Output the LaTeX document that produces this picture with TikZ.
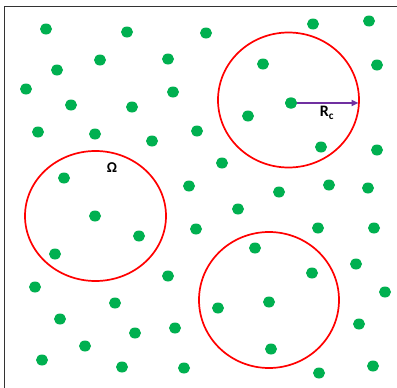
\documentclass[tikz,border=0pt]{standalone}
\usepackage{fontspec}
\setmainfont{Carlito}
\usetikzlibrary{arrows.meta,shapes.geometric}
\definecolor{dotgreen}{HTML}{00B050}
\definecolor{ringred}{HTML}{FF0000}
\definecolor{arrowpurple}{HTML}{7030A0}
\tikzset{
  dot/.style={ellipse,fill=dotgreen,draw=none,minimum width=12pt,minimum height=11pt,inner sep=0pt},
  ring/.style={ellipse,draw=ringred,line width=1.7pt,inner sep=0pt},
  frame/.style={line width=1.8pt,draw=black!80},
  lbl/.style={font=\bfseries,inner sep=0pt},
}
\begin{document}
\begin{tikzpicture}[x=1pt,y=-1pt]
\useasboundingbox (0,0) rectangle (397,388);
\fill[white] (0,0) rectangle (397,388);
\draw[frame] (397,6.5) -- (4.5,6.5) -- (4.5,388);
% rings
\node[ring,minimum width=141pt,minimum height=130pt] (c1) at (95.5,216) {};
\node[ring,minimum width=141pt,minimum height=135pt] (c2) at (288.5,100) {};
\node[ring,minimum width=140pt,minimum height=136pt] (c3) at (269,300) {};
% dots
\foreach \i/\x/\y in {1/46/29,2/127/32,3/100/60,4/168/59,5/57/70,6/26/89,7/173/92,8/71/105,9/132/107,10/38/132,11/95/134,12/152/141,13/197/131,14/64/178,15/189/186,16/206/33,17/313/24,18/369/21,19/263/64,20/377/65,21/291/103,22/248/116,23/321/147,24/377/150,25/222/163,26/279/192,27/329/185,28/368/188,29/95/216,30/139/236,31/55/254,32/35/287,33/168/276,34/196/229,35/115/303,36/60/319,37/135/333,38/175/328,39/85/346,40/42/360,41/122/367,42/184/368,43/238/209,44/318/228,45/374/228,46/255/248,47/356/264,48/312/273,49/385/292,50/218/308,51/269/302,52/359/324,53/271/349,54/319/373,55/373/366}
  \node[dot] (d\i) at (\x,\y) {};
% radius arrow
\coordinate (rc) at (358.5,103);
\draw[draw=arrowpurple,line width=2.6pt,-{Triangle[length=7pt,width=6pt]}] (d21.center) -- (rc);
\node[dot] at (d21) {};
\node[lbl,font=\bfseries\fontsize{16}{16}\selectfont] (rlabel) at (327,113) {R\textsubscript{c}};
\node[lbl,font=\bfseries\fontsize{15}{15}\selectfont] (omega) at (112,168) {Ω};
\end{tikzpicture}
\end{document}
